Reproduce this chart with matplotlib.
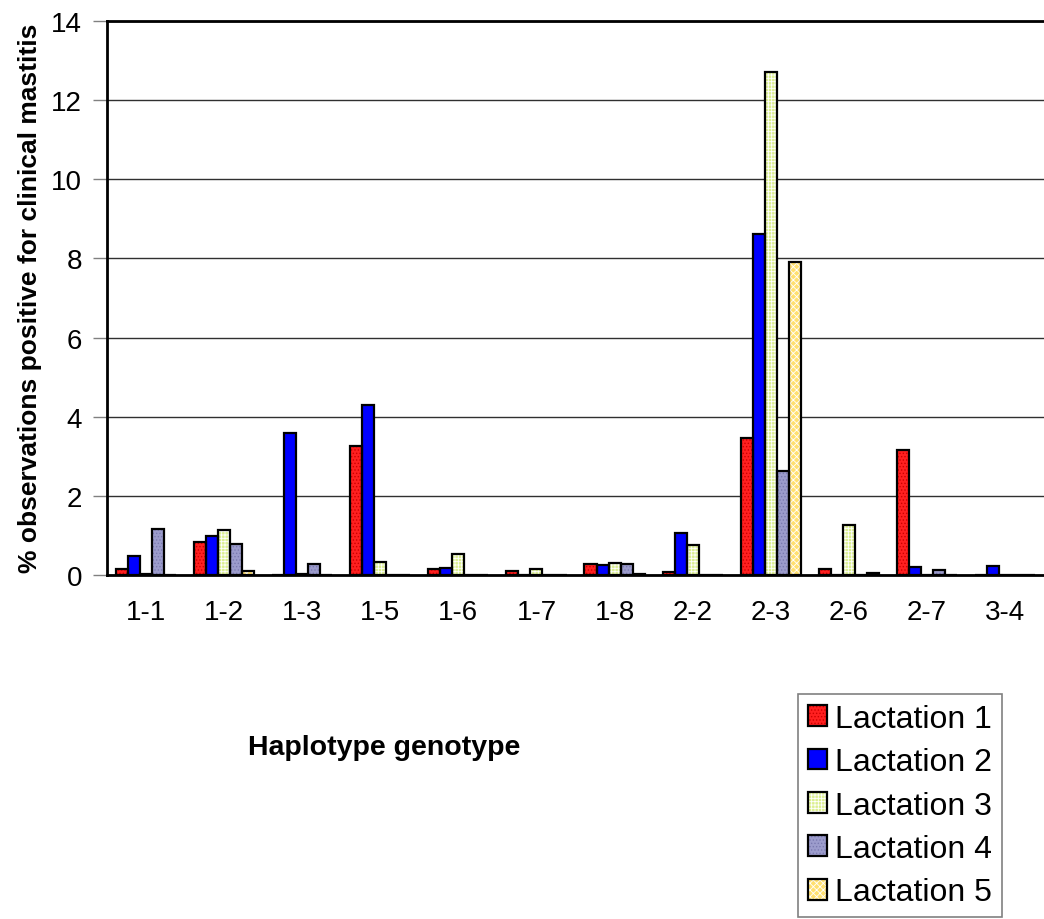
import numpy as np
import matplotlib
matplotlib.use('Agg')
import matplotlib.pyplot as plt
from matplotlib.patches import Patch

# ---- data: % observations positive for clinical mastitis ----
genotypes = ['1-1', '1-2', '1-3', '1-5', '1-6', '1-7', '1-8', '2-2', '2-3', '2-6', '2-7', '3-4']
lact1 = [0.15, 0.84, 0.00, 3.25, 0.15, 0.10, 0.27, 0.07, 3.47, 0.15, 3.17, 0.00]
lact2 = [0.48, 0.98, 3.60, 4.30, 0.18, 0.00, 0.26, 1.05, 8.62, 0.00, 0.19, 0.22]
lact3 = [0.02, 1.13, 0.03, 0.34, 0.53, 0.15, 0.31, 0.75, 12.70, 1.26, 0.00, 0.00]
lact4 = [1.15, 0.79, 0.27, 0.00, 0.00, 0.00, 0.28, 0.00, 2.64, 0.00, 0.12, 0.00]
lact5 = [0.00, 0.10, 0.00, 0.00, 0.00, 0.00, 0.03, 0.00, 7.90, 0.05, 0.00, 0.00]
series_labels = ['Lactation 1', 'Lactation 2', 'Lactation 3', 'Lactation 4', 'Lactation 5']

# fill colour, hatch colour, hatch pattern for each series
styles = [
    ('#ff2020', '#cc0000', '.....'),
    ('#0000ff', '#0000ff', None),
    ('#dcef90', '#ffffff', '+++++'),
    ('#9c9ccc', '#7a7ab0', '.....'),
    ('#ffe070', '#ffffff', 'xxxxx'),
]

plt.rcParams['font.family'] = ['Liberation Sans', 'DejaVu Sans']
plt.rcParams['hatch.linewidth'] = 0.6

fig = plt.figure(figsize=(10.44, 9.2), dpi=100)
ax = fig.add_axes([107 / 1044, 1 - 576 / 920, 1 - 107 / 1044, 554 / 920])

x = np.arange(len(genotypes))
w = 0.154
handles = []
for i, (vals, lab) in enumerate(zip([lact1, lact2, lact3, lact4, lact5], series_labels)):
    fc, hc, hatch = styles[i]
    pos = x + (i - 2) * w
    # hatched fill first, then a black outline on top
    ax.bar(pos, vals, width=w, color=fc, edgecolor=hc, linewidth=0, hatch=hatch, zorder=3)
    ax.bar(pos, vals, width=w, fill=False, edgecolor='black', linewidth=1.6, zorder=4)
    h_fill = Patch(facecolor=fc, edgecolor=hc, linewidth=0, hatch=hatch)
    h_edge = Patch(fill=False, edgecolor='black', linewidth=1.6)
    handles.append((h_fill, h_edge))

ax.set_xlim(-0.5, len(genotypes) - 0.5)
ax.set_ylim(0, 14)
ax.set_yticks(np.arange(0, 15, 2))
ax.set_xticks(x)
ax.set_xticklabels(genotypes)
ax.tick_params(axis='y', labelsize=20, length=10, width=1, color='#808080', pad=8)
ax.tick_params(axis='x', labelsize=20, length=0, pad=17)
ax.yaxis.grid(True, color='#303030', linewidth=1, zorder=0)

ax.spines['right'].set_visible(False)
for s in ['left', 'bottom', 'top']:
    ax.spines[s].set_linewidth(2)
    ax.spines[s].set_color('black')
    ax.spines[s].set_zorder(5)

fig.text(30 / 1044, 1 - 298 / 920, '% observations positive for clinical mastitis',
         rotation=90, ha='center', va='center', fontsize=19, fontweight='bold')
fig.text(384 / 1044, 1 - 748 / 920, 'Haplotype genotype',
         ha='center', va='center', fontsize=20.5, fontweight='bold')

leg = fig.legend(handles, series_labels, loc='lower left',
                 bbox_to_anchor=(798 / 1044, 2 / 920), bbox_transform=fig.transFigure,
                 fontsize=23, frameon=True, fancybox=False, framealpha=1,
                 edgecolor='#808080', handlelength=0.62, handleheight=0.62,
                 handletextpad=0.25, labelspacing=0.42, borderpad=0.3, borderaxespad=0)
leg.get_frame().set_linewidth(1.2)

plt.savefig('out.png', dpi=100)
